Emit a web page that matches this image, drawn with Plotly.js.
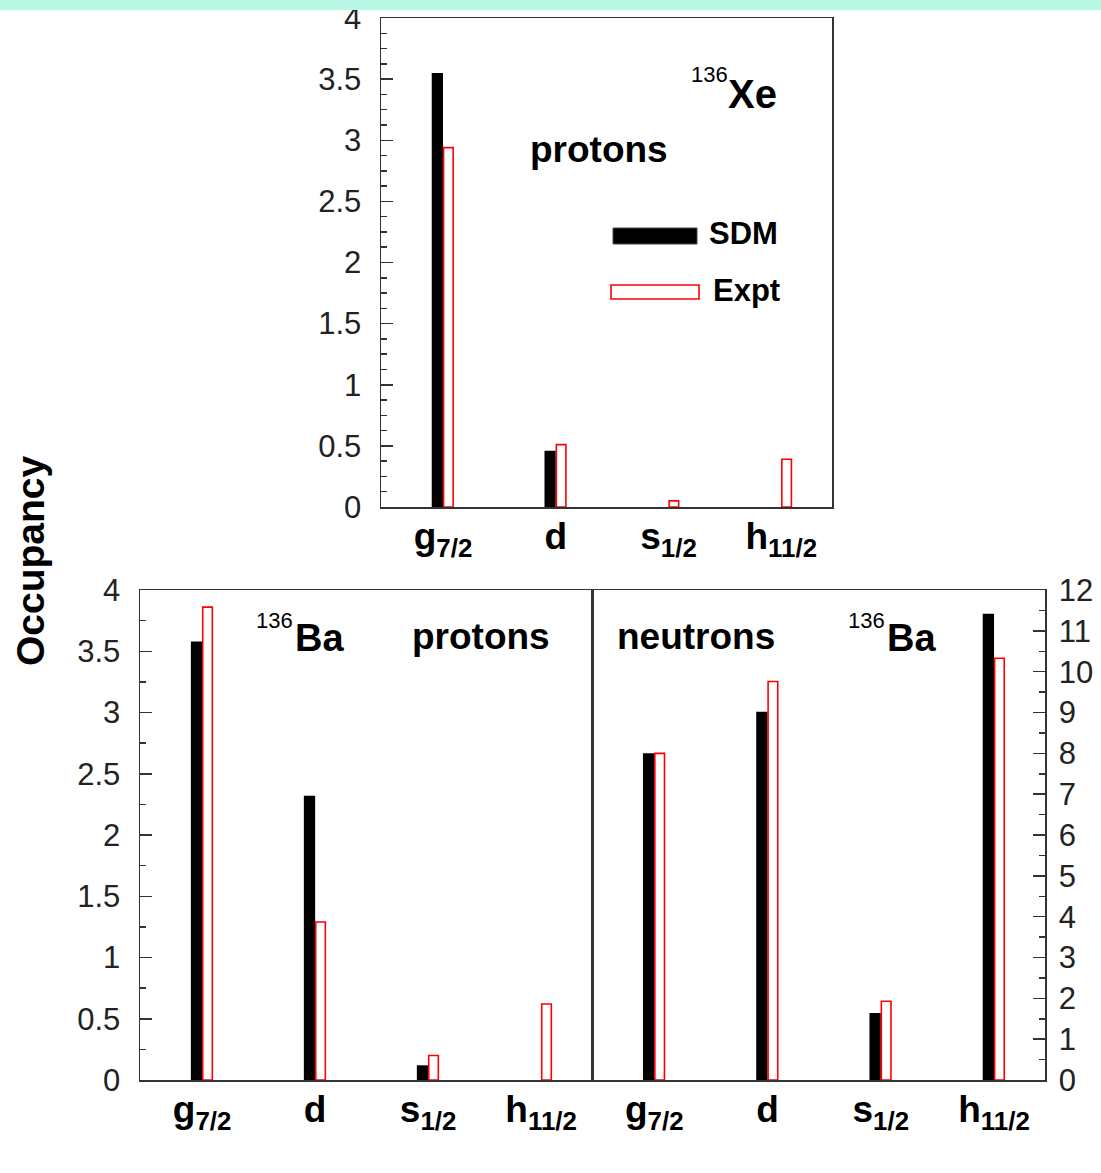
<!DOCTYPE html>
<html>
<head>
<meta charset="utf-8">
<script src="https://cdn.plot.ly/plotly-3.0.1.min.js"></script>
<style>html,body{margin:0;padding:0;background:#fff;}#chart{width:1101px;height:1173px;}</style>
</head>
<body>
<div id="chart"></div>
<script>
// ---- data ----
const categories = [0, 1, 2, 3];
const orbitalLabels = ["g<sub>7/2</sub>", "d", "s<sub>1/2</sub>", "h<sub>11/2</sub>"];

// 136Xe protons
const xeProtonSDM  = [3.55, 0.46, null, null];
const xeProtonExpt = [2.94, 0.51, 0.05, 0.39];

// 136Ba protons
const baProtonSDM  = [3.58, 2.32, 0.12, null];
const baProtonExpt = [3.86, 1.29, 0.20, 0.62];

// 136Ba neutrons
const baNeutronSDM  = [8.0, 9.02, 1.64, 11.42];
const baNeutronExpt = [8.0, 9.76, 1.93, 10.33];

const leftTicks = [0, 0.5, 1, 1.5, 2, 2.5, 3, 3.5, 4];
const leftTickText = ["0", "0.5", "1", "1.5", "2", "2.5", "3", "3.5", "4"];
const rightTicks = [0,1,2,3,4,5,6,7,8,9,10,11,12];

// ---- helpers ----
const W = 1101, H = 1173;
const X = p => p / W;
const Y = p => 1 - p / H;
const FONT = "Liberation Sans, Arial, Helvetica, sans-serif";

function sdm(y, xa, ya) {
  return {type: 'bar', x: categories, y: y, xaxis: xa, yaxis: ya,
    width: 0.1, offset: -0.1, marker: {color: '#000', line: {width: 0}}, showlegend: false, hoverinfo: 'skip'};
}
function expt(y, xa, ya) {
  return {type: 'bar', x: categories, y: y, xaxis: xa, yaxis: ya,
    width: 0.085, offset: 0.005, marker: {color: '#fff', line: {color: '#ff0000', width: 1.6}}, showlegend: false, hoverinfo: 'skip'};
}

const data = [
  sdm(xeProtonSDM, 'x', 'y'), expt(xeProtonExpt, 'x', 'y'),
  sdm(baProtonSDM, 'x2', 'y2'), expt(baProtonExpt, 'x2', 'y2'),
  sdm(baNeutronSDM, 'x3', 'y3'), expt(baNeutronExpt, 'x3', 'y3')
];

const catAxis = (domain, anchor) => ({
  domain: domain, anchor: anchor, range: [-0.55, 3.45],
  tickvals: categories, ticktext: orbitalLabels.map(t => '<b>' + t + '</b>'),
  ticks: '', showgrid: false, zeroline: false,
  showline: true, mirror: true, linecolor: '#333', linewidth: 1.5,
  tickfont: {family: FONT, size: 37, color: '#000'}, ticklabelstandoff: -4,
  fixedrange: true
});

const leftAxis = (domain, anchor, minorStep) => ({
  domain: domain, anchor: anchor, range: [0, 4],
  tickvals: leftTicks, ticktext: leftTickText,
  ticks: 'inside', ticklen: 12, tickwidth: 1.5, tickcolor: '#333',
  minor: {dtick: minorStep, tick0: 0, ticks: 'inside', ticklen: 6, tickwidth: 1.5, tickcolor: '#333', showgrid: false},
  showgrid: false, zeroline: false,
  showline: true, mirror: true, linecolor: '#333', linewidth: 1.5,
  tickfont: {family: FONT, size: 31, color: '#222'}, ticklabelstandoff: 12,
  fixedrange: true
});

const layout = {
  width: W, height: H, autosize: false,
  margin: {l: 0, r: 0, t: 0, b: 0, pad: 0},
  paper_bgcolor: '#fff', plot_bgcolor: '#fff',
  barmode: 'overlay',
  showlegend: false,
  font: {family: FONT},
  xaxis: catAxis([X(381), X(832)], 'y'),
  yaxis: leftAxis([Y(507), Y(18)], 'x', 0.125),
  xaxis2: catAxis([X(140), X(592)], 'y2'),
  yaxis2: leftAxis([Y(1080), Y(590)], 'x2', 0.25),
  xaxis3: catAxis([X(592), X(1045)], 'y3'),
  yaxis3: {
    domain: [Y(1080), Y(590)], anchor: 'x3', side: 'right', range: [0, 12],
    tickvals: rightTicks,
    ticks: 'inside', ticklen: 12, tickwidth: 1.5, tickcolor: '#333',
    minor: {dtick: 0.5, tick0: 0, ticks: 'inside', ticklen: 6, tickwidth: 1.5, tickcolor: '#333', showgrid: false},
    showgrid: false, zeroline: false,
    showline: true, mirror: true, linecolor: '#333', linewidth: 1.5,
    tickfont: {family: FONT, size: 31, color: '#222'}, ticklabelstandoff: 6,
    fixedrange: true
  },
  shapes: [
    {type: 'rect', xref: 'paper', yref: 'paper', x0: X(613), x1: X(697), y0: Y(244), y1: Y(228),
     fillcolor: '#000', line: {width: 1, color: '#444'}},
    {type: 'rect', xref: 'paper', yref: 'paper', x0: X(611), x1: X(699), y0: Y(299), y1: Y(285),
     fillcolor: '#fff', line: {width: 1.6, color: '#ff0000'}},
    {type: 'rect', xref: 'paper', yref: 'paper', x0: 0, x1: 1, y0: Y(10), y1: 1.01,
     fillcolor: '#b6f8e4', line: {width: 0}, layer: 'above'}
  ],
  annotations: [
    {xref: 'paper', yref: 'paper', x: X(599), y: Y(150), xanchor: 'center', yanchor: 'middle', showarrow: false,
     text: '<b>protons</b>', font: {family: FONT, size: 37, color: '#000'}},
    {xref: 'paper', yref: 'paper', x: X(689), y: Y(75), xanchor: 'left', yanchor: 'middle', showarrow: false,
     text: '136', font: {family: FONT, size: 22, color: '#000'}},
    {xref: 'paper', yref: 'paper', x: X(726), y: Y(94), xanchor: 'left', yanchor: 'middle', showarrow: false,
     text: '<b>Xe</b>', font: {family: FONT, size: 40, color: '#000'}},
    {xref: 'paper', yref: 'paper', x: X(707), y: Y(233), xanchor: 'left', yanchor: 'middle', showarrow: false,
     text: '<b>SDM</b>', font: {family: FONT, size: 31, color: '#000'}},
    {xref: 'paper', yref: 'paper', x: X(711), y: Y(291), xanchor: 'left', yanchor: 'middle', showarrow: false,
     text: '<b>Expt</b>', font: {family: FONT, size: 31, color: '#000'}},
    {xref: 'paper', yref: 'paper', x: X(254), y: Y(620), xanchor: 'left', yanchor: 'middle', showarrow: false,
     text: '136', font: {family: FONT, size: 22, color: '#000'}},
    {xref: 'paper', yref: 'paper', x: X(293), y: Y(638), xanchor: 'left', yanchor: 'middle', showarrow: false,
     text: '<b>Ba</b>', font: {family: FONT, size: 38, color: '#000'}},
    {xref: 'paper', yref: 'paper', x: X(481), y: Y(636), xanchor: 'center', yanchor: 'middle', showarrow: false,
     text: '<b>protons</b>', font: {family: FONT, size: 37, color: '#000'}},
    {xref: 'paper', yref: 'paper', x: X(696), y: Y(636), xanchor: 'center', yanchor: 'middle', showarrow: false,
     text: '<b>neutrons</b>', font: {family: FONT, size: 37, color: '#000'}},
    {xref: 'paper', yref: 'paper', x: X(846), y: Y(620), xanchor: 'left', yanchor: 'middle', showarrow: false,
     text: '136', font: {family: FONT, size: 22, color: '#000'}},
    {xref: 'paper', yref: 'paper', x: X(885), y: Y(638), xanchor: 'left', yanchor: 'middle', showarrow: false,
     text: '<b>Ba</b>', font: {family: FONT, size: 38, color: '#000'}},
    {xref: 'paper', yref: 'paper', x: X(30), y: Y(561), xanchor: 'center', yanchor: 'middle', showarrow: false,
     textangle: -90, text: '<b>Occupancy</b>', font: {family: FONT, size: 39, color: '#000'}}
  ]
};

Plotly.newPlot('chart', data, layout, {displayModeBar: false, staticPlot: true});
</script>
</body>
</html>
